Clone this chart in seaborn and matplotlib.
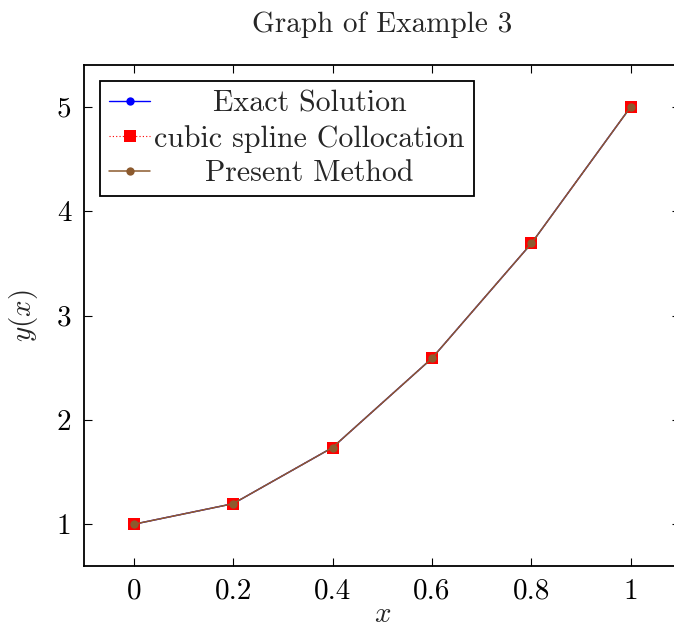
import numpy as np
import pandas as pd
import matplotlib
matplotlib.use("Agg")
import matplotlib.pyplot as plt
from matplotlib.ticker import FuncFormatter
import seaborn as sns

# data (values at the collocation nodes)
x_nodes = [0.0, 0.2, 0.4, 0.6, 0.8, 1.0]
y_exact = [1.0, 1.197, 1.735, 2.59, 3.69, 5.0]
y_spline = [1.0, 1.197, 1.735, 2.59, 3.69, 5.0]
y_present = [1.0, 1.197, 1.735, 2.59, 3.69, 5.0]

labels = ["Exact Solution", "cubic spline Collocation", "Present Method"]
x_ticks = [0, 0.2, 0.4, 0.6, 0.8, 1]
y_ticks = [1, 2, 3, 4, 5]


def main():
    sns.set_style("ticks")
    plt.rcParams["font.family"] = ["cmr10", "DejaVu Serif"]
    plt.rcParams["mathtext.fontset"] = "cm"
    plt.rcParams["axes.unicode_minus"] = False
    plt.rcParams["axes.formatter.use_mathtext"] = True

    fs = 21
    brown = "#8C5A2E"

    fig = plt.figure(figsize=(6.74, 6.28), dpi=100)
    ax = fig.add_axes([0.1246, 0.0987, 0.885, 0.7978])

    df = pd.DataFrame({"x": x_nodes, "exact": y_exact,
                       "spline": y_spline, "present": y_present})

    sns.lineplot(data=df, x="x", y="exact", ax=ax, color="blue",
                 marker="o", markersize=6, markeredgewidth=0,
                 linewidth=1.0, label=labels[0])
    sns.lineplot(data=df, x="x", y="spline", ax=ax, color="red",
                 marker="s", markersize=8, markeredgewidth=0,
                 linewidth=0.8, linestyle=(0, (1, 2)), label=labels[1])
    sns.lineplot(data=df, x="x", y="present", ax=ax, color=brown,
                 marker="o", markersize=6, markeredgewidth=0,
                 linewidth=1.1, label=labels[2])

    ax.set_xlim(-0.1, 1.1)
    ax.set_ylim(0.6, 5.4)
    ax.set_xticks(x_ticks)
    ax.set_yticks(y_ticks)
    fmt = FuncFormatter(lambda v, p: f"{v:g}")
    ax.xaxis.set_major_formatter(fmt)
    ax.yaxis.set_major_formatter(fmt)
    ax.tick_params(direction="in", length=6, width=0.8, top=True, right=True,
                   labelsize=fs, colors="black", pad=9)
    for sp in ax.spines.values():
        sp.set_linewidth(1.3)
        sp.set_color("black")

    ax.set_xlabel("$x$", fontsize=fs, labelpad=-2)
    ax.set_ylabel("$y(x)$", fontsize=fs, labelpad=12)
    ax.set_title("Graph of Example 3", fontsize=fs, pad=24)

    leg = ax.legend(loc="upper left", bbox_to_anchor=(0.0, 1.0),
                    borderaxespad=0.55, fontsize=21.5, frameon=True,
                    fancybox=False, edgecolor="black", framealpha=1,
                    handlelength=1.35, handletextpad=0.15,
                    labelspacing=0.24, borderpad=0.3)
    leg.get_frame().set_linewidth(1.3)

    # pgfplots centres the legend entries in their column
    fig.canvas.draw()
    renderer = fig.canvas.get_renderer()
    widths = [t.get_window_extent(renderer).width for t in leg.get_texts()]
    max_w = max(widths)
    for t, w in zip(leg.get_texts(), widths):
        t.set_x((max_w - w) / 2)

    fig.savefig("out.png", dpi=100)


if __name__ == "__main__":
    main()
